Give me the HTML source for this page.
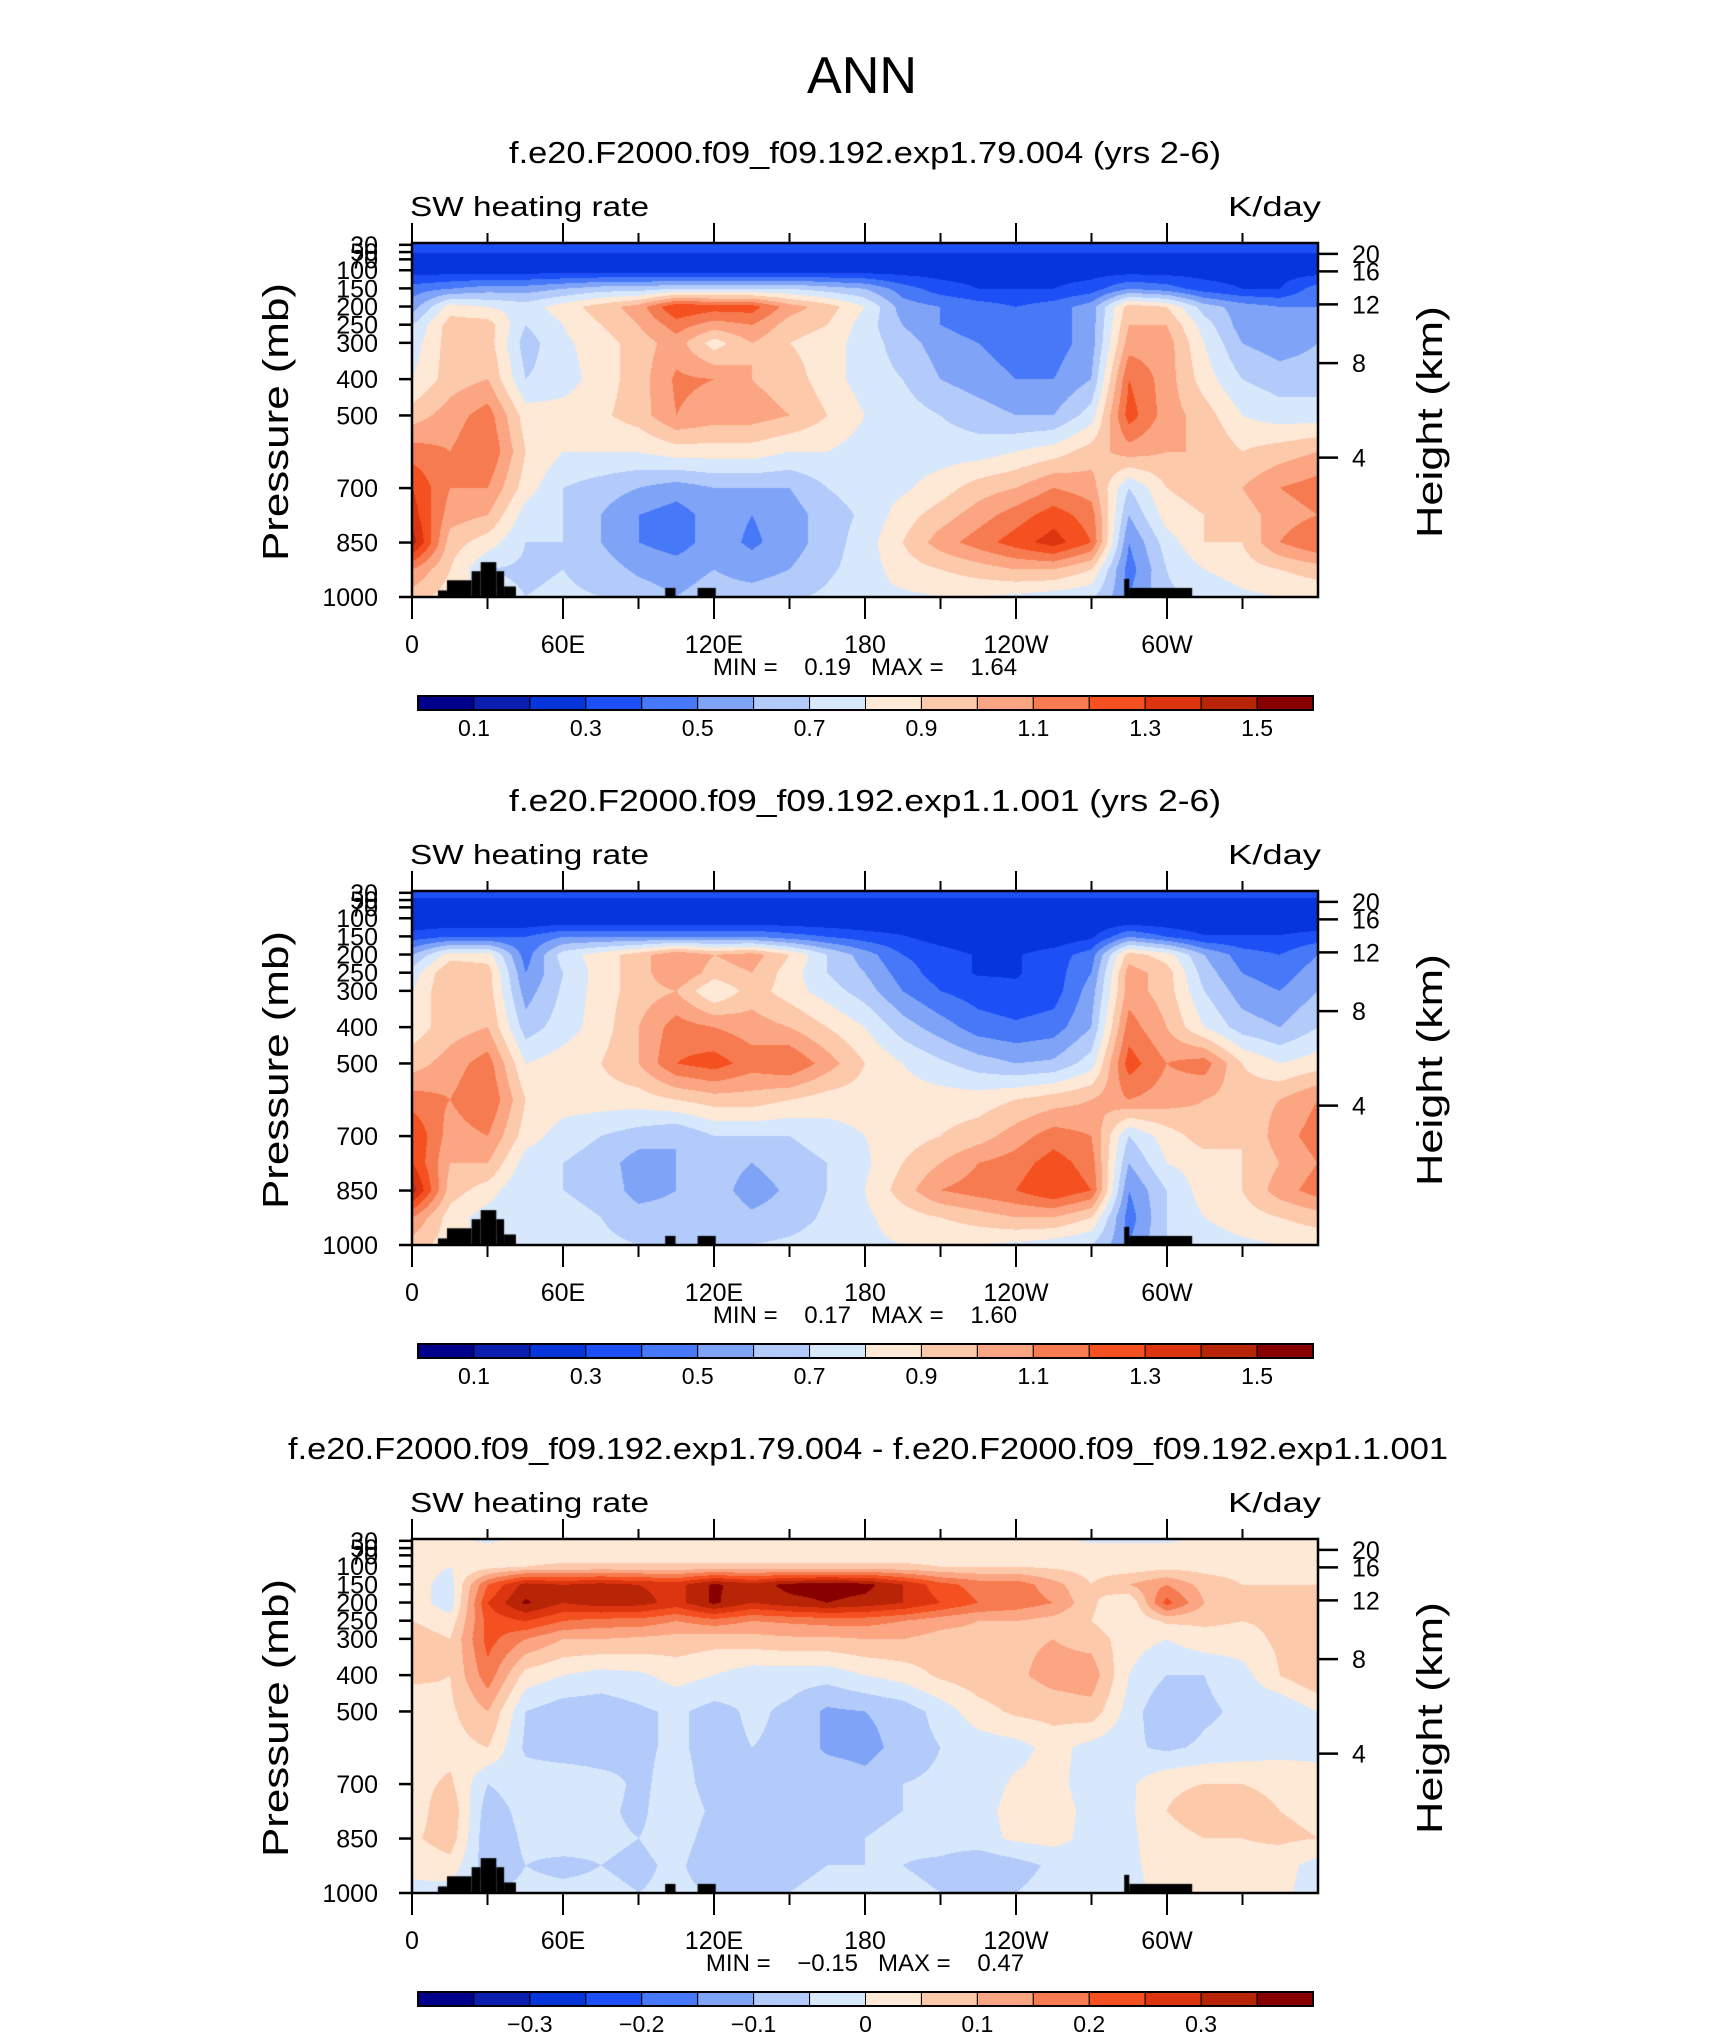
<!DOCTYPE html>
<html><head><meta charset="utf-8"><style>
html,body{margin:0;padding:0;background:#fff;}
#wrap{position:relative;width:1710px;height:2038px;overflow:hidden;background:#fff;}
canvas{position:absolute;}
svg{position:absolute;left:0;top:0;}
text{font-family:"Liberation Sans",sans-serif;fill:#000;}
</style></head><body>
<div id="wrap">
<canvas id="c1" width="906" height="354" style="left:412px;top:243px"></canvas>
<canvas id="c2" width="906" height="354" style="left:412px;top:891px"></canvas>
<canvas id="c3" width="906" height="354" style="left:412px;top:1539px"></canvas>
<svg id="ov" width="1710" height="2038"></svg>
</div>
<script>
const lons=[0,15,30,45,60,75,90,105,120,135,150,165,180,195,210,225,240,255,270,285,300,315,330,345,360];
const pLevels=[30,50,70,100,150,200,250,300,400,500,600,700,775,850,925,1000];
const fill=v=>lons.map(()=>v);
const panel1Values=[
fill(0.35),fill(0.30),fill(0.27),fill(0.25),
[0.45,0.5,0.55,0.55,0.6,0.65,0.65,0.7,0.7,0.7,0.7,0.65,0.6,0.45,0.35,0.3,0.3,0.3,0.35,0.5,0.45,0.35,0.3,0.3,0.45],
[0.55,0.85,0.8,0.75,0.85,0.95,1.05,1.3,1.25,1.25,1.05,0.95,0.8,0.55,0.5,0.45,0.4,0.45,0.55,0.95,0.9,0.65,0.55,0.5,0.5],
[0.7,0.95,0.95,0.7,0.8,0.9,1.0,1.15,1.05,1.1,0.95,0.9,0.75,0.6,0.5,0.45,0.42,0.45,0.55,1.0,1.0,0.75,0.55,0.5,0.55],
[0.75,0.95,0.95,0.65,0.78,0.85,0.95,1.05,0.85,1.0,0.9,0.85,0.75,0.65,0.55,0.5,0.45,0.45,0.55,1.05,1.05,0.8,0.6,0.55,0.6],
[0.8,0.95,1.0,0.7,0.75,0.85,0.95,1.12,1.1,1.0,0.95,0.85,0.75,0.7,0.6,0.55,0.5,0.5,0.6,1.2,1.05,0.85,0.7,0.65,0.65],
[0.95,1.05,1.15,0.85,0.85,0.88,0.95,1.1,1.05,1.05,1.0,0.9,0.8,0.75,0.7,0.65,0.6,0.6,0.75,1.25,1.05,0.95,0.8,0.75,0.75],
[1.15,1.1,1.2,0.9,0.8,0.8,0.8,0.85,0.85,0.85,0.8,0.8,0.75,0.75,0.75,0.75,0.8,0.85,0.95,1.05,1.0,1.0,0.9,0.95,1.0],
[1.3,1.1,1.1,0.85,0.7,0.65,0.6,0.55,0.6,0.6,0.6,0.7,0.75,0.78,0.85,0.95,1.0,1.1,1.05,0.7,0.9,0.95,1.0,1.1,1.15],
[1.35,1.05,1.0,0.75,0.7,0.6,0.5,0.45,0.55,0.5,0.55,0.65,0.72,0.85,0.95,1.05,1.15,1.25,1.15,0.6,0.85,0.9,0.95,1.05,1.1],
[1.45,0.95,0.85,0.7,0.7,0.6,0.5,0.45,0.55,0.48,0.55,0.65,0.75,0.9,1.05,1.15,1.25,1.35,1.2,0.5,0.75,0.9,0.9,1.1,1.2],
[1.1,0.9,0.7,0.68,0.7,0.65,0.58,0.55,0.6,0.55,0.6,0.68,0.75,0.85,0.9,0.95,1.0,1.0,0.9,0.45,0.7,0.8,0.85,0.9,0.95],
[0.95,0.85,0.75,0.7,0.72,0.7,0.65,0.6,0.65,0.65,0.68,0.72,0.78,0.78,0.8,0.8,0.78,0.75,0.72,0.5,0.68,0.72,0.78,0.8,0.82]];
const panel2Values=[
fill(0.33),fill(0.28),fill(0.25),fill(0.2),
[0.35,0.4,0.4,0.4,0.5,0.5,0.5,0.5,0.5,0.5,0.45,0.4,0.35,0.31,0.25,0.22,0.22,0.22,0.28,0.5,0.4,0.31,0.31,0.31,0.35],
[0.6,0.85,0.85,0.45,0.75,0.85,0.95,1.1,1.0,1.05,0.9,0.7,0.55,0.4,0.35,0.29,0.29,0.35,0.45,0.95,0.85,0.6,0.45,0.4,0.5],
[0.75,1.0,0.95,0.5,0.7,0.85,0.95,1.1,0.95,1.0,0.85,0.7,0.6,0.45,0.35,0.29,0.29,0.35,0.5,1.05,0.95,0.65,0.5,0.45,0.55],
[0.8,1.0,0.95,0.55,0.72,0.85,0.95,1.0,0.8,0.95,0.85,0.75,0.65,0.5,0.4,0.35,0.32,0.35,0.55,1.05,0.95,0.7,0.55,0.5,0.6],
[0.85,0.95,1.0,0.65,0.75,0.85,1.0,1.15,1.1,1.05,1.0,0.9,0.8,0.65,0.55,0.45,0.42,0.45,0.6,1.15,1.0,0.8,0.65,0.6,0.7],
[0.95,1.05,1.15,0.8,0.85,0.9,1.0,1.2,1.25,1.15,1.2,1.05,0.9,0.8,0.72,0.65,0.6,0.62,0.75,1.25,1.1,1.15,0.9,0.8,0.85],
[1.15,1.1,1.2,0.9,0.85,0.85,0.85,0.9,0.95,0.95,0.9,0.85,0.85,0.85,0.85,0.85,0.9,0.95,1.0,1.1,1.05,1.0,0.95,1.0,1.1],
[1.3,1.05,1.1,0.85,0.75,0.7,0.65,0.6,0.7,0.7,0.7,0.75,0.8,0.85,0.9,0.95,1.05,1.15,1.1,0.7,0.85,0.95,0.9,1.05,1.15],
[1.3,1.0,1.0,0.75,0.7,0.65,0.55,0.6,0.65,0.6,0.65,0.7,0.78,0.9,1.0,1.1,1.15,1.25,1.15,0.6,0.8,0.85,0.9,1.0,1.1],
[1.45,0.95,0.85,0.7,0.7,0.68,0.55,0.6,0.65,0.55,0.62,0.7,0.8,0.95,1.1,1.15,1.2,1.3,1.2,0.5,0.7,0.85,0.9,1.05,1.15],
[1.1,0.85,0.75,0.7,0.72,0.7,0.65,0.65,0.68,0.62,0.65,0.72,0.78,0.85,0.9,0.95,1.0,1.0,0.9,0.45,0.7,0.8,0.85,0.9,0.95],
[0.95,0.85,0.75,0.72,0.75,0.72,0.7,0.7,0.7,0.7,0.72,0.75,0.78,0.8,0.8,0.8,0.78,0.75,0.7,0.5,0.7,0.75,0.78,0.8,0.82]];
const panel3Values=[
[0.02,0.02,-0.01,0.02,0.02,0.02,0.02,0.02,0.02,0.02,0.02,0.02,0.02,0.02,0.02,0.02,0.02,0.02,-0.01,-0.01,-0.01,0.02,0.02,0.02,0.02],
fill(0.03),fill(0.03),
[0.02,0.0,0.03,0.05,0.06,0.06,0.06,0.06,0.06,0.06,0.06,0.06,0.06,0.06,0.05,0.05,0.05,0.04,0.03,0.02,0.03,0.03,0.03,0.03,0.03],
[0.02,-0.02,0.2,0.32,0.3,0.32,0.3,0.28,0.36,0.32,0.37,0.38,0.37,0.3,0.22,0.18,0.18,0.12,0.05,0.1,0.15,0.08,0.05,0.05,0.05],
[0.03,-0.03,0.25,0.36,0.3,0.33,0.32,0.28,0.36,0.3,0.33,0.35,0.33,0.3,0.25,0.2,0.18,0.15,0.06,0.0,0.22,0.1,0.07,0.06,0.06],
[0.05,0.02,0.22,0.25,0.2,0.18,0.18,0.15,0.18,0.15,0.16,0.17,0.17,0.15,0.12,0.1,0.1,0.08,0.05,0.0,0.06,0.06,0.05,0.06,0.07],
[0.08,0.05,0.22,0.15,0.1,0.1,0.09,0.08,0.07,0.08,0.09,0.09,0.1,0.1,0.08,0.08,0.09,0.1,0.08,0.02,0.0,0.03,0.03,0.06,0.07],
[0.06,0.05,0.18,0.03,0.0,-0.02,-0.01,0.02,0.0,-0.03,-0.03,-0.03,0.0,0.02,0.06,0.08,0.09,0.12,0.13,0.0,-0.05,-0.05,-0.02,0.05,0.1],
[0.02,0.04,0.1,-0.05,-0.08,-0.08,-0.06,-0.04,-0.07,-0.04,-0.06,-0.11,-0.1,-0.08,-0.03,0.03,0.06,0.07,0.08,-0.02,-0.1,-0.06,-0.04,-0.05,0.0],
[0.04,0.03,0.05,-0.06,-0.08,-0.08,-0.06,-0.04,-0.07,-0.05,-0.06,-0.11,-0.12,-0.08,-0.05,-0.03,-0.02,0.02,-0.02,-0.04,-0.06,-0.04,-0.03,-0.02,-0.02],
[0.03,0.06,-0.05,-0.02,-0.01,-0.03,-0.06,-0.03,-0.07,-0.05,-0.05,-0.06,-0.08,-0.05,-0.04,-0.03,0.01,0.02,-0.03,-0.01,0.04,0.05,0.05,0.04,0.03],
[0.02,0.09,-0.08,-0.03,-0.02,-0.04,-0.06,-0.02,-0.06,-0.05,-0.05,-0.05,-0.06,-0.05,-0.03,-0.02,0.02,0.03,-0.02,-0.01,0.05,0.08,0.07,0.05,0.04],
[0.04,0.08,-0.09,-0.04,-0.03,-0.04,-0.05,-0.03,-0.07,-0.06,-0.05,-0.05,-0.05,-0.04,-0.03,-0.02,0.01,0.02,-0.02,-0.01,0.03,0.05,0.05,0.06,0.05],
[0.01,0.03,-0.08,-0.05,-0.06,-0.05,-0.06,-0.04,-0.08,-0.08,-0.06,-0.05,-0.05,-0.05,-0.06,-0.09,-0.07,-0.04,-0.02,-0.01,0.02,0.03,0.03,0.02,-0.02],
[-0.01,-0.02,-0.05,-0.04,-0.04,-0.04,-0.05,-0.04,-0.05,-0.05,-0.05,-0.04,-0.04,-0.04,-0.05,-0.06,-0.05,-0.03,-0.02,-0.01,0.01,0.01,0.01,0.01,-0.02]];
const levelsAbs=[0.1,0.2,0.3,0.4,0.5,0.6,0.7,0.8,0.9,1.0,1.1,1.2,1.3,1.4,1.5];
const levelsDiff=[-0.35,-0.3,-0.25,-0.2,-0.15,-0.1,-0.05,0,0.05,0.1,0.15,0.2,0.25,0.3,0.35];
const palette=['#00008c','#0a1fb0','#0735dc','#1c4ff5','#4678f8','#7fa3f7','#b3cbfa','#d8e8fc','#fee8d6','#fdc9ab','#fba582','#f77b50','#f5501f','#dd3510','#b82406','#880000'];
const labelsAbs=['0.1','0.3','0.5','0.7','0.9','1.1','1.3','1.5'];
const labelIdxAbs=[1,3,5,7,9,11,13,15];
const labelsDiff=['−0.3','−0.2','−0.1','0','0.1','0.2','0.3'];
const labelIdxDiff=[2,4,6,8,10,12,14];
const terrainLon0=[10.3,13.9,23.7,27.3,33.5,36.6,100.6,113.5,283,285];
const terrainLon1=[13.9,23.7,27.3,33.5,36.6,41.3,104.7,120.7,285,310];
const terrainP=[982,954,929,904,929,971,975,975,950,975];
const pTickVals=[30,50,70,100,150,200,250,300,400,500,700,850,1000];
const hTickVals=['20','16','12','8','4'];
const hTickP=[55,103,194,356,616];
const lonTickLabels=['0','60E','120E','180','120W','60W'];
const lonTickVals=[0,60,120,180,240,300];
const titles=['f.e20.F2000.f09_f09.192.exp1.79.004 (yrs 2-6)','f.e20.F2000.f09_f09.192.exp1.1.001 (yrs 2-6)','f.e20.F2000.f09_f09.192.exp1.79.004 - f.e20.F2000.f09_f09.192.exp1.1.001'];
const minVals=['0.19','0.17','−0.15'];
const maxVals=['1.64','1.60','0.47'];

const PX0=412,PW=906,PH=354,PTOP=25,PBOT=1000;
const panelTops=[243,891,1539];
function xOf(lon){return PX0+lon/360*PW;}
function yOf(p,top){return top+(p-PTOP)/(PBOT-PTOP)*PH;}
function hex(c){return [parseInt(c.slice(1,3),16),parseInt(c.slice(3,5),16),parseInt(c.slice(5,7),16)];}
const rgb=palette.map(hex);
function sample(vals,lon,p){
  let fi=lon/15; let i=Math.min(Math.floor(fi),lons.length-2); let tx=fi-i;
  let j=0,ty=0; if(p>pLevels[0]){ while(j<pLevels.length-2&&p>pLevels[j+1])j++; ty=(p-pLevels[j])/(pLevels[j+1]-pLevels[j]); ty=Math.max(0,Math.min(1,ty)); }
  const a=vals[j][i],b=vals[j][i+1],c=vals[j+1][i],d=vals[j+1][i+1];
  return (a*(1-tx)+b*tx)*(1-ty)+(c*(1-tx)+d*tx)*ty;
}
function drawPanel(id,vals,levels){
  const cv=document.getElementById(id),ctx=cv.getContext('2d');
  const img=ctx.createImageData(PW,PH);
  for(let py=0;py<PH;py++){const p=PTOP+py/(PH-1)*(PBOT-PTOP);
    for(let px=0;px<PW;px++){const lon=px/(PW-1)*360;const v=sample(vals,lon,p);
      let b=0;while(b<levels.length&&v>=levels[b]+1e-9)b++;
      const k=(py*PW+px)*4;const c=rgb[b];img.data[k]=c[0];img.data[k+1]=c[1];img.data[k+2]=c[2];img.data[k+3]=255;}}
  ctx.putImageData(img,0,0);
  ctx.fillStyle='#000';
  for(let t=0;t<terrainLon0.length;t++){
    const x0=terrainLon0[t]/360*PW,x1=terrainLon1[t]/360*PW;const y0=(terrainP[t]-PTOP)/(PBOT-PTOP)*PH;
    ctx.fillRect(x0,y0,x1-x0,PH-y0);}
}
drawPanel('c1',panel1Values,levelsAbs);
drawPanel('c2',panel2Values,levelsAbs);
drawPanel('c3',panel3Values,levelsDiff);

const NS='http://www.w3.org/2000/svg';const ov=document.getElementById('ov');
function mk(tag,attrs,parent){const e=document.createElementNS(NS,tag);for(const k in attrs)e.setAttribute(k,attrs[k]);(parent||ov).appendChild(e);return e;}
function txt(s,attrs,parent){const e=mk('text',attrs,parent);e.textContent=s;return e;}
const ann=txt('ANN',{x:862,y:93,'font-size':52,'text-anchor':'middle',textLength:110,lengthAdjust:'spacingAndGlyphs',fill:'#222'});


for(let k=0;k<3;k++){
  const top=panelTops[k],dy=top-243,bot=top+PH;
  const g=mk('g',{});
  
  
  const t=txt(titles[k],{x:k==2?868:865,y:163+dy,'font-size':31,'text-anchor':'middle',textLength:k==2?1160:712,lengthAdjust:'spacingAndGlyphs'},g);
  
  
  const l=txt('SW heating rate',{x:410,y:216+dy,'font-size':28,textLength:239,lengthAdjust:'spacingAndGlyphs'},g);
  
  
  const u=txt('K/day',{x:1228,y:216+dy,'font-size':28,textLength:93,lengthAdjust:'spacingAndGlyphs'},g);
  
  
  mk('rect',{x:PX0,y:top,width:PW,height:PH,fill:'none',stroke:'#000','stroke-width':2.5},g);
  for(let lon=0;lon<360;lon+=30){const x=xOf(lon),maj=lon%60==0;
    mk('line',{x1:x,x2:x,y1:top,y2:top-(maj?20:10),stroke:'#000','stroke-width':2},g);
    mk('line',{x1:x,x2:x,y1:bot,y2:bot+(maj?22:12),stroke:'#000','stroke-width':2},g);}
  lonTickVals.forEach((lv,i)=>{const e=txt(lonTickLabels[i],{x:xOf(lv),y:653+dy,'font-size':25,'text-anchor':'middle'},g);
    
    });
  pTickVals.forEach(pv=>{const y=yOf(pv,top);
    mk('line',{x1:PX0-13,x2:PX0,y1:y,y2:y,stroke:'#000','stroke-width':2.5},g);
    const e=txt(String(pv),{x:378,y:y+9,'font-size':25,'text-anchor':'end'},g);
    
    });
  hTickP.forEach((pv,i)=>{const y=yOf(pv,top);
    mk('line',{x1:PX0+PW,x2:PX0+PW+20,y1:y,y2:y,stroke:'#000','stroke-width':2.5},g);
    const e=txt(hTickVals[i],{x:1352,y:y+9,'font-size':25},g);
    
    });
  const ya=txt('Pressure (mb)',{x:0,y:0,'font-size':36,'text-anchor':'middle',textLength:278,lengthAdjust:'spacingAndGlyphs',transform:'translate(288,'+(top+179)+') rotate(-90)'},g);
  
  
  const yb=txt('Height (km)',{x:0,y:0,'font-size':36,'text-anchor':'middle',textLength:232,lengthAdjust:'spacingAndGlyphs',transform:'translate(1442,'+(top+179)+') rotate(-90)'},g);
  
  
  const mm=txt('MIN =    '+minVals[k]+'   MAX =    '+maxVals[k],{x:865,y:675+dy,'font-size':24,'text-anchor':'middle',style:'white-space:pre'},g);
  
  
  const cb=mk('g',{},g);
  
  
  const bx=418,bw=895/16,by=696+dy;
  palette.forEach((c,i)=>{mk('rect',{x:bx+i*bw,y:by,width:bw,height:14,fill:c,stroke:'#000','stroke-width':1},cb);});
  mk('rect',{x:bx,y:by,width:895,height:14,fill:'none',stroke:'#000','stroke-width':2},cb);
  const labs=k==2?labelsDiff:labelsAbs,idx=k==2?labelIdxDiff:labelIdxAbs;
  labs.forEach((s,i)=>{const e=txt(s,{x:bx+idx[i]*bw,y:736+dy,'font-size':23,'text-anchor':'middle'},cb);
    
    });
}
</script>
</body></html>
